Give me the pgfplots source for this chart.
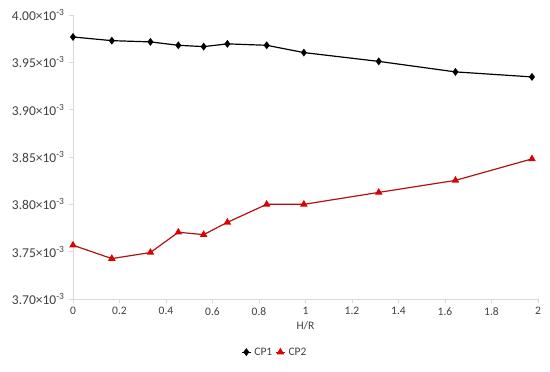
\documentclass[border=0pt]{standalone}
\usepackage{pgfplots}
\pgfplotsset{compat=1.18}
\usepackage{fontspec}
\setmainfont{Carlito}
\definecolor{axgray}{RGB}{217,217,217}
\definecolor{txtgray}{RGB}{64,64,64}
\definecolor{cpline}{RGB}{180,16,16}
\definecolor{cpmark}{RGB}{220,0,0}
\begin{document}
\begin{tikzpicture}
\useasboundingbox (-73bp,-73bp) rectangle (477bp,299bp);
\begin{axis}[
  at={(0,0)}, anchor=south west,
  scale only axis, width=465bp, height=284bp,
  xmin=0, xmax=2, ymin=3.70, ymax=4.00,
  axis lines=left, axis line style={-, axgray, line width=0.8pt},
  xtick={0,0.2,...,2.01}, ytick={3.70,3.75,...,4.001},
  xticklabels={0,0.2,0.4,0.6,0.8,1,1.2,1.4,1.6,1.8,2},
  yticklabels={3.70×10\textsuperscript{-3},3.75×10\textsuperscript{-3},3.80×10\textsuperscript{-3},3.85×10\textsuperscript{-3},3.90×10\textsuperscript{-3},3.95×10\textsuperscript{-3},4.00×10\textsuperscript{-3}},
  tick style={axgray, line width=0.8pt}, tick align=outside, major tick length=4bp,
  ticklabel style={text=txtgray},
  xticklabel style={yshift=-1bp, font=\fontsize{11.5bp}{13bp}\selectfont},
  yticklabel style={xshift=-1bp, font=\fontsize{13.5bp}{15bp}\selectfont},
  xlabel={H/R}, xlabel style={font=\fontsize{11.5bp}{13bp}\selectfont, text=txtgray, at={(axis description cs:0.5,-0.095)}, anchor=center},
  legend columns=2,
  legend style={draw=none, fill=none, font=\fontsize{11.5bp}{13bp}\selectfont, text=txtgray, at={(axis description cs:0.434,-0.187)}, anchor=center, column sep=1bp, /tikz/every even column/.append style={column sep=1bp}},
  legend image code/.code={\draw[#1] (0bp,0bp) -- (9bp,0bp); \draw[#1, only marks] plot coordinates {(4.5bp,0bp)};},
]
\addplot[black, line width=1.2pt, mark=diamond*, mark size=3bp, mark options={black}] coordinates {
(0,3.9768) (0.167,3.9729) (0.333,3.9716) (0.453,3.9680) (0.562,3.9666) (0.664,3.9695) (0.833,3.9680) (0.993,3.9603) (1.315,3.9510) (1.645,3.9399) (1.974,3.9346)
};
\addlegendentry{CP1}
\addplot[cpline, line width=1.2pt, mark=triangle*, mark size=3.2bp, mark options={cpmark, fill=cpmark}] coordinates {
(0,3.7568) (0.167,3.7427) (0.333,3.7491) (0.453,3.7705) (0.562,3.7680) (0.664,3.7810) (0.833,3.8000) (0.993,3.8000) (1.315,3.8126) (1.645,3.8253) (1.974,3.8480)
};
\addlegendentry{CP2}
\end{axis}
\end{tikzpicture}
\end{document}
